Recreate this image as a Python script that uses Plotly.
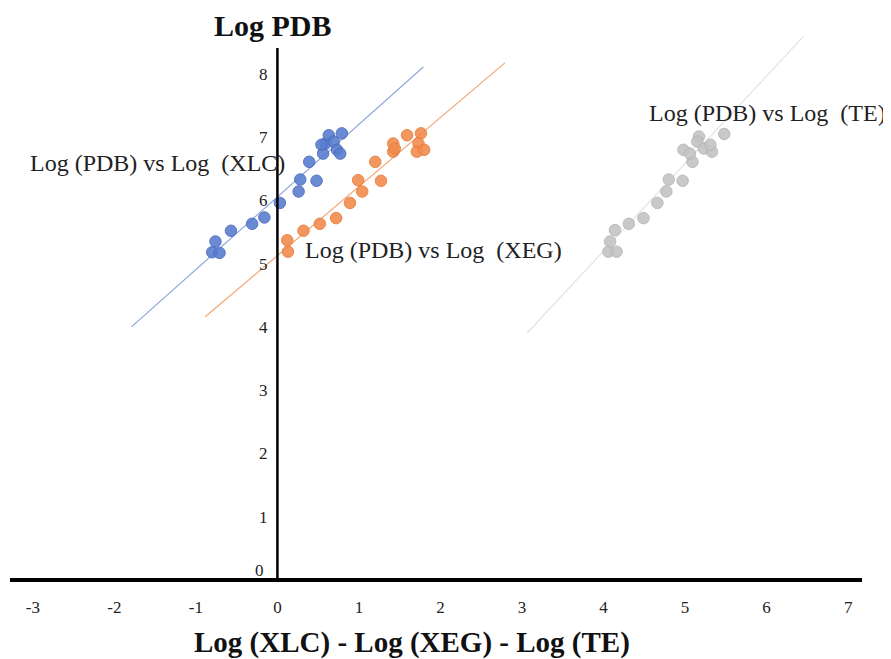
import numpy as np
import plotly.graph_objects as go

# ---- data ----
xlc_x = [-0.80, -0.71, -0.76, -0.57, -0.31, -0.16, 0.03, 0.26, 0.28, 0.48, 0.39,
         0.56, 0.59, 0.63, 0.69, 0.79, 0.73, 0.77, 0.54]
xlc_y = [5.15, 5.14, 5.32, 5.49, 5.60, 5.70, 5.93, 6.11, 6.30, 6.28, 6.58,
         6.71, 6.87, 7.00, 6.90, 7.03, 6.77, 6.71, 6.85]

xeg_x = [0.13, 0.12, 0.32, 0.52, 0.72, 0.89, 1.04, 0.99, 1.27, 1.20, 1.42,
         1.42, 1.44, 1.59, 1.76, 1.73, 1.71, 1.80]
xeg_y = [5.16, 5.34, 5.49, 5.60, 5.69, 5.93, 6.11, 6.29, 6.28, 6.58, 6.74,
         6.87, 6.79, 7.00, 7.03, 6.87, 6.74, 6.77]

te_x = [4.06, 4.16, 4.08, 4.14, 4.31, 4.49, 4.66, 4.77, 4.80, 4.97, 5.09,
        4.98, 5.06, 5.17, 5.15, 5.23, 5.33, 5.31, 5.48]
te_y = [5.16, 5.16, 5.32, 5.50, 5.60, 5.69, 5.93, 6.11, 6.30, 6.28, 6.58,
        6.77, 6.71, 6.98, 6.90, 6.79, 6.74, 6.85, 7.02]

# linear trendlines (slope, intercept, x extent)
xlc_trend = dict(slope=1.148, intercept=6.025, x_from=-1.79, x_to=1.79)
xeg_trend = dict(slope=1.092, intercept=5.097, x_from=-0.885, x_to=2.79)
te_trend = dict(slope=1.383, intercept=-0.362, x_from=3.06, x_to=6.45)

x_tick_vals = [-3, -2, -1, 0, 1, 2, 3, 4, 5, 6, 7]
x_tick_text = ["-3", "-2", "-1", "0", "1", "2", "3", "4", "5", "6", "7"]
y_tick_vals = [0, 1, 2, 3, 4, 5, 6, 7, 8]
y_tick_text = ["0", "1", "2", "3", "4", "5", "6", "7", "8"]

series_labels = ["Log (PDB) vs Log  (XLC)", "Log (PDB) vs Log  (XEG)", "Log (PDB) vs Log  (TE)"]
y_title = "Log PDB"
x_title = "Log (XLC) - Log (XEG) - Log (TE)"

FONT = "Liberation Serif"

fig = go.Figure()

def add_trend(tr, color):
    xs = np.array([tr["x_from"], tr["x_to"]])
    ys = tr["slope"] * xs + tr["intercept"]
    fig.add_trace(go.Scatter(x=xs, y=ys, mode="lines",
                             line=dict(color=color, width=1.2),
                             hoverinfo="skip", showlegend=False))

add_trend(xlc_trend, "#8EA6DD")
add_trend(xeg_trend, "#F3A574")
add_trend(te_trend, "#E3E3E3")

def add_pts(xs, ys, fill, edge, name):
    fig.add_trace(go.Scatter(x=xs, y=ys, mode="markers", name=name,
                             marker=dict(size=11.5, color=fill, opacity=0.9,
                                         line=dict(color=edge, width=1)),
                             showlegend=False))

add_pts(xlc_x, xlc_y, "#5A7ECF", "#4669BA", series_labels[0])
add_pts(xeg_x, xeg_y, "#F28C4F", "#E87A35", series_labels[1])
add_pts(te_x, te_y, "#C4C4C4", "#B4B4B4", series_labels[2])

# vertical axis line at x = 0
fig.add_shape(type="line", xref="x", yref="y", x0=0, x1=0, y0=0, y1=8.38,
              line=dict(color="black", width=2.5))

x_lo, x_hi = -3.28, 7.17
y_lo, y_hi = 0, 8.664
zero_pos = (0 - x_lo) / (x_hi - x_lo)

tick_font = dict(family=FONT, size=17, color="#222")
label_font = dict(family=FONT, size=24, color="#222")

fig.update_layout(
    width=883, height=651,
    margin=dict(l=2, r=29, t=22, b=81),
    paper_bgcolor="white", plot_bgcolor="white",
    font=dict(family=FONT, color="#222"),
    xaxis=dict(range=[x_lo, x_hi], showgrid=False, zeroline=False,
               showline=True, linecolor="black", linewidth=4,
               tickmode="array", tickvals=x_tick_vals, ticktext=x_tick_text,
               ticks="", ticklabelstandoff=11, tickfont=tick_font),
    yaxis=dict(range=[y_lo, y_hi], showgrid=False, zeroline=False,
               showline=False, anchor="free", position=zero_pos,
               tickmode="array", tickvals=y_tick_vals[1:], ticktext=y_tick_text[1:],
               ticks="", ticklabelstandoff=10, ticklabelshift=2,
               tickfont=tick_font),
    annotations=[
        # the "0" tick label sits just above the thick horizontal axis line
        dict(text=y_tick_text[0], xref="x", yref="y", x=0, y=y_tick_vals[0],
             xanchor="right", yanchor="middle", xshift=-11, yshift=8,
             showarrow=False, font=tick_font),
        dict(text=series_labels[0], xref="x", yref="y", x=-3.06, y=6.56,
             xanchor="left", yanchor="middle", showarrow=False, font=label_font),
        dict(text=series_labels[1], xref="x", yref="y", x=0.315, y=5.19,
             xanchor="left", yanchor="middle", showarrow=False, font=label_font),
        dict(text=series_labels[2], xref="x", yref="y", x=4.53, y=7.35,
             xanchor="left", yanchor="middle", showarrow=False, font=label_font),
        dict(text="<b>" + y_title + "</b>", xref="paper", yref="paper",
             x=0.3087, y=1.009, xanchor="center", yanchor="middle",
             showarrow=False, font=dict(family=FONT, size=30, color="#111")),
        dict(text="<b>" + x_title + "</b>", xref="paper", yref="paper",
             x=0.472, y=-0.117, xanchor="center", yanchor="middle",
             showarrow=False, font=dict(family=FONT, size=29, color="#111")),
    ],
)

fig.write_html("out.html")
